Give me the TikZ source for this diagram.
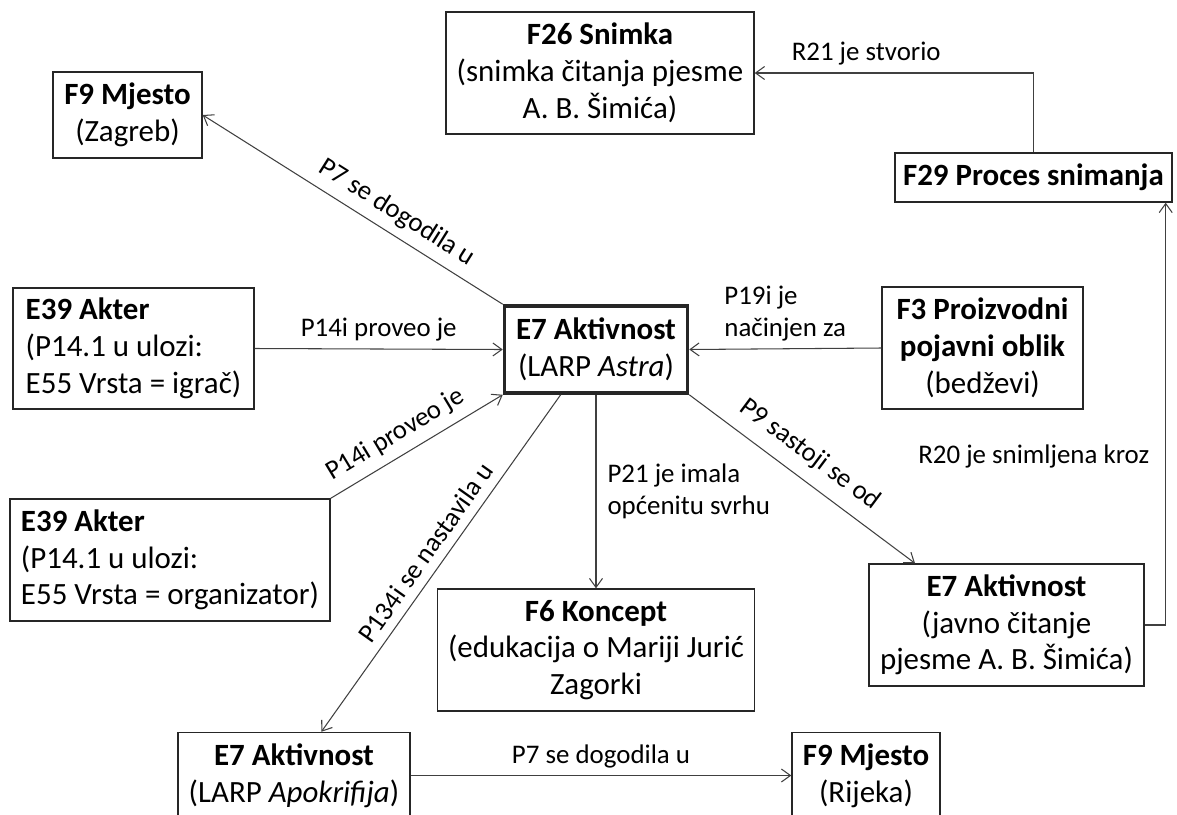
\documentclass[tikz,border=0pt]{standalone}
\usepackage{fontspec}
\setmainfont{Carlito}
\usetikzlibrary{arrows.meta}

\newcommand{\boxfont}{\fontsize{17.6}{20.9}\selectfont}
\newcommand{\relfont}{\fontsize{15.3}{18.2}\selectfont}

\begin{document}
\begin{tikzpicture}[scale=1,
  entity/.style={draw=black!85, line width=0.8pt, font=\boxfont, align=center, inner sep=0pt},
  rel/.style={draw=black!75, line width=0.6pt, -{Straight Barb[length=1.8mm,width=2.6mm]}},
  rellabel/.style={font=\relfont, inner sep=2pt}]
  \useasboundingbox (0,0) rectangle (23.54,-16.30);
  \node[entity, minimum width=2.98cm, minimum height=1.72cm] (zagreb) at (2.55,-2.30) {\textbf{F9 Mjesto}\\(Zagreb)};
  \node[entity, minimum width=6.16cm, minimum height=2.44cm] (snimka) at (12.00,-1.46) {\textbf{F26 Snimka}\\(snimka čitanja pjesme\\A. B. Šimića)};
  \node[entity, minimum width=5.54cm, minimum height=0.98cm] (proces) at (20.67,-3.55) {\textbf{F29 Proces snimanja}};
  \node[entity, minimum width=4.82cm, minimum height=2.42cm, align=left] (igrac) at (2.67,-6.97) {\textbf{E39 Akter}\\(P14.1 u ulozi:\\E55 Vrsta = igrač)};
  \node[entity, line width=2pt, minimum width=3.66cm, minimum height=1.74cm] (astra) at (11.92,-6.99) {\textbf{E7 Aktivnost}\\(LARP \textit{Astra})};
  \node[entity, minimum width=4.02cm, minimum height=2.44cm] (bedz) at (19.65,-6.96) {\textbf{F3 Proizvodni}\\\textbf{pojavni oblik}\\(bedževi)};
  \node[entity, minimum width=6.40cm, minimum height=2.44cm, align=left] (organizator) at (3.40,-11.20) {\textbf{E39 Akter}\\(P14.1 u ulozi:\\E55 Vrsta = organizator)};
  \node[entity, minimum width=6.34cm, minimum height=2.44cm] (koncept) at (11.92,-13.00) {\textbf{F6 Koncept}\\(edukacija o Mariji Jurić\\Zagorki};
  \node[entity, minimum width=5.50cm, minimum height=2.44cm] (citanje) at (20.13,-12.50) {\textbf{E7 Aktivnost}\\(javno čitanje\\pjesme A. B. Šimića)};
  \node[entity, minimum width=4.64cm, minimum height=1.72cm] (apokrifija) at (5.88,-15.51) {\textbf{E7 Aktivnost}\\(LARP \textit{Apokrifija})};
  \node[entity, minimum width=2.96cm, minimum height=1.72cm] (rijeka) at (17.32,-15.51) {\textbf{F9 Mjesto}\\(Rijeka)};

  \draw[rel] (astra.north west) -- node[rellabel, sloped, above=3pt, pos=0.39] {P7 se dogodila u} (zagreb.east);
  \draw[rel] (igrac.east) -- node[rellabel, above=2pt] {P14i proveo je} (astra.west);
  \draw[rel] (organizator.north east) -- node[rellabel, sloped, above=3pt, pos=0.44] {P14i proveo je} (astra.south west);
  \draw[rel] (bedz.west) -- node[rellabel, above=2pt, align=left] {P19i je\\načinjen za} (astra.east);
  \draw[rel] (astra.south) -- node[rellabel, right=0.15cm, align=left] {P21 je imala\\općenitu svrhu} (koncept.north);
  \draw[rel] (astra.south east) -- node[rellabel, sloped, above=5pt, pos=0.47] {P9 sastoji se od} (citanje.146);
  \draw[rel] (astra.232) -- node[rellabel, sloped, above=3pt] {P134i se nastavila u} (apokrifija.58);
  \draw[rel] (apokrifija.east) -- node[rellabel, above=2pt] {P7 se dogodila u} (rijeka.west);
  \draw[rel] (citanje.east) -| node[rellabel, pos=0.7, left=0.25cm] {R20 je snimljena kroz} ([xshift=-0.14cm]proces.south east);
  \draw[rel] (proces.north) |- node[rellabel, pos=0.8, above=2pt] {R21 je stvorio} (snimka.east);
\end{tikzpicture}
\end{document}
